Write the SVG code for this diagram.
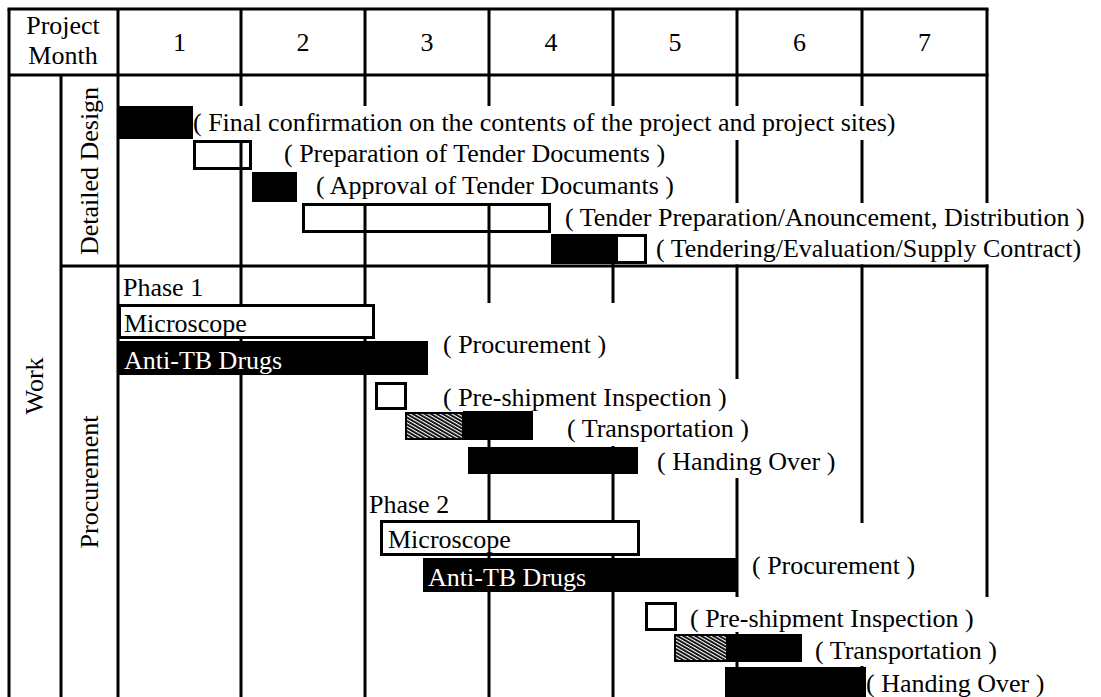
<svg xmlns="http://www.w3.org/2000/svg" width="1101" height="697" viewBox="0 0 1101 697">
<style>
text{font-family:"Liberation Serif","Times New Roman",serif;font-size:26px;fill:#000}
.w{fill:#fff}
.m{text-anchor:middle}
.ln{stroke:#000;stroke-width:3;fill:none}
.bg{fill:#fff}
.blk{fill:#000}
.box{fill:none;stroke:#000;stroke-width:3}
.wbox{fill:#fff;stroke:#000;stroke-width:3}
.hat{fill:url(#hatch);stroke:#000;stroke-width:2}
</style>
<defs>
<pattern id="hatch" width="3" height="3" patternUnits="userSpaceOnUse" patternTransform="rotate(-60)">
<rect width="3" height="3" fill="#fff"/><rect width="1.8" height="3" fill="#000"/>
</pattern>
</defs>
<rect width="1101" height="697" fill="#fff"/>
<g id="grid">
<path class="ln" d="M9,9V697M61,75V697M118,9V697M241,9V697M365,9V697M489,9V697M613,9V697M737,9V697M862,9V697M987,9V697"/>
</g>
<g id="text-backgrounds">
<rect class="bg" x="193" y="106" width="709" height="34"/>
<rect class="bg" x="280" y="140" width="400" height="32"/>
<rect class="bg" x="312" y="172" width="376" height="31"/>
<rect class="bg" x="558" y="203" width="535" height="31"/>
<rect class="bg" x="650" y="234" width="443" height="30.5"/>
<rect class="bg" x="438" y="303" width="178" height="76"/>
<rect class="bg" x="438" y="379" width="307" height="32"/>
<rect class="bg" x="560" y="411" width="200" height="35"/>
<rect class="bg" x="650" y="446" width="195" height="32"/>
<rect class="bg" x="745" y="523" width="180" height="74"/>
<rect class="bg" x="683" y="597" width="309" height="35"/>
<rect class="bg" x="805" y="632" width="200" height="34"/>
<rect class="bg" x="866" y="666" width="185" height="31"/>
</g>
<g id="frame">
<path class="ln" d="M7.5,9H988.5M9,75H988.5M61,266H988.5"/>
</g>
<g id="header">
<text class="m" x="63" y="34">Project</text>
<text class="m" x="63" y="64">Month</text>
<text class="m" x="179.5" y="51">1</text>
<text class="m" x="303" y="51">2</text>
<text class="m" x="427" y="51">3</text>
<text class="m" x="551" y="51">4</text>
<text class="m" x="675" y="51">5</text>
<text class="m" x="799.5" y="51">6</text>
<text class="m" x="924.5" y="51">7</text>
</g>
<g id="labels">
<text class="m" transform="translate(43,386) rotate(-90)">Work</text>
<text class="m" transform="translate(98,171) rotate(-90)">Detailed Design</text>
<text class="m" transform="translate(98,482) rotate(-90)">Procurement</text>
</g>
<g id="dd-final">
<rect class="blk" x="118" y="106" width="75" height="33"/>
<text x="193" y="131">( Final confirmation on the contents of the project and project sites)</text>
</g>
<g id="dd-preparation">
<rect class="box" x="194.5" y="141.5" width="56" height="27"/>
<text x="284" y="162">( Preparation of Tender Documents )</text>
</g>
<g id="dd-approval">
<rect class="blk" x="252" y="172" width="45" height="30"/>
<text x="316" y="194">( Approval of Tender Documants )</text>
</g>
<g id="dd-tender-prep">
<rect class="box" x="303.5" y="204.5" width="246" height="27"/>
<text x="565" y="226">( Tender Preparation/Anouncement, Distribution )</text>
</g>
<g id="dd-tendering">
<rect class="blk" x="551" y="234" width="64" height="30"/>
<rect class="box" x="616.5" y="235.5" width="29" height="27"/>
<text x="656" y="257">( Tendering/Evaluation/Supply Contract)</text>
</g>
<g id="p1-microscope">
<text x="123" y="296">Phase 1</text>
<rect class="wbox" x="119.5" y="305.5" width="254" height="32"/>
<text x="124" y="332">Microscope</text>
</g>
<g id="p1-drugs">
<rect class="blk" x="118" y="341" width="310" height="34"/>
<text class="w" x="124" y="369">Anti-TB Drugs</text>
<text x="443" y="353">( Procurement )</text>
</g>
<g id="p1-inspection">
<rect class="wbox" x="376.5" y="383.5" width="29" height="25"/>
<text x="443" y="406">( Pre-shipment Inspection )</text>
</g>
<g id="p1-transport">
<rect class="hat" x="406" y="413" width="57" height="26"/>
<rect class="blk" x="463" y="411" width="70" height="29"/>
<text x="567" y="437">( Transportation )</text>
</g>
<g id="p1-handover">
<rect class="blk" x="468" y="447" width="170" height="27"/>
<text x="657" y="470">( Handing Over )</text>
</g>
<g id="p2-microscope">
<text x="369" y="513">Phase 2</text>
<rect class="wbox" x="381.5" y="521.5" width="257" height="33"/>
<text x="388" y="548">Microscope</text>
</g>
<g id="p2-drugs">
<rect class="blk" x="423" y="558" width="314" height="34"/>
<text class="w" x="428" y="586">Anti-TB Drugs</text>
<text x="752" y="574">( Procurement )</text>
</g>
<g id="p2-inspection">
<rect class="wbox" x="646.5" y="603.5" width="29" height="26"/>
<text x="690" y="627">( Pre-shipment Inspection )</text>
</g>
<g id="p2-transport">
<rect class="hat" x="675" y="635" width="52" height="26"/>
<rect class="blk" x="727" y="634" width="75" height="28"/>
<text x="815" y="659">( Transportation )</text>
</g>
<g id="p2-handover">
<rect class="blk" x="725" y="667" width="141" height="30"/>
<text x="866" y="692">( Handing Over )</text>
</g>
</svg>
